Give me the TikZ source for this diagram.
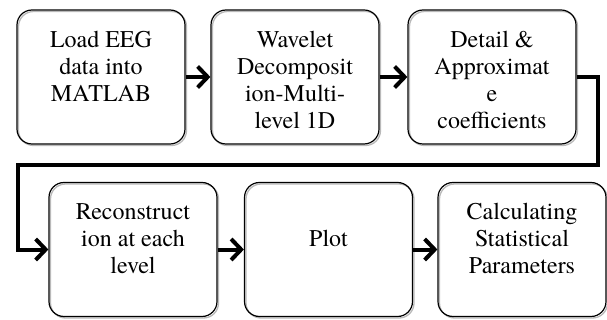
\documentclass[tikz,border=0pt]{standalone}
\usepackage{fontspec}
\setmainfont{TeX Gyre Termes}
\usetikzlibrary{positioning,arrows.meta}

\tikzset{
  stage/.style={draw, line width=1.2pt, rounded corners=15pt,
    minimum width=168pt, minimum height=134pt, inner sep=0pt,
    preaction={draw=gray!55, line width=1.3pt,
      transform canvas={shift={(1.5pt,-1.5pt)}}}},
  caption/.style={align=center, inner sep=0pt,
    font=\rmfamily\fontsize{24}{27}\selectfont},
  flow/.style={line width=4pt,
    -{Straight Barb[length=10pt,width=21pt]}}
}

\begin{document}
\begin{tikzpicture}[x=1pt,y=-1pt]
    \useasboundingbox (0,0) rectangle (607,320);

    % first row
    \node[stage] (load) at (101,77) {};
    \node[stage] (wavelet) at (295,77) {};
    \node[stage] (coeff) at (492,77) {};
    \node[caption, below=21.5pt of load.north] (load-t) {Load EEG\\data into\\MATLAB};
    \node[caption, below=21.5pt of wavelet.north] (wavelet-t) {Wavelet\\Decomposit\\ion-Multi-\\level 1D};
    \node[caption, below=21.5pt of coeff.north] (coeff-t) {Detail \&\\Approximat\\e\\coefficients};

    % second row
    \node[stage] (recon) at (133,249.5) {};
    \node[stage] (plot) at (328.5,249.5) {};
    \node[stage] (stats) at (522,249.5) {};
    \node[caption, below=21.5pt of recon.north] (recon-t) {Reconstruct\\ion at each\\level};
    \node[caption, below=48.5pt of plot.north] (plot-t) {Plot};
    \node[caption, below=21.5pt of stats.north] (stats-t) {Calculating\\Statistical\\Parameters};

    \draw[flow] (load) -- (wavelet);
    \draw[flow] (wavelet) -- (coeff);
    \draw[flow] (recon) -- (plot);
    \draw[flow] (plot) -- (stats);

    % wrap round to the second row
    \coordinate (bend) at (18,165);
    \draw[flow, line join=miter] (coeff.east) -| ([xshift=21pt]coeff.east |- bend) -- (bend) |- (recon.west);
\end{tikzpicture}
\end{document}
